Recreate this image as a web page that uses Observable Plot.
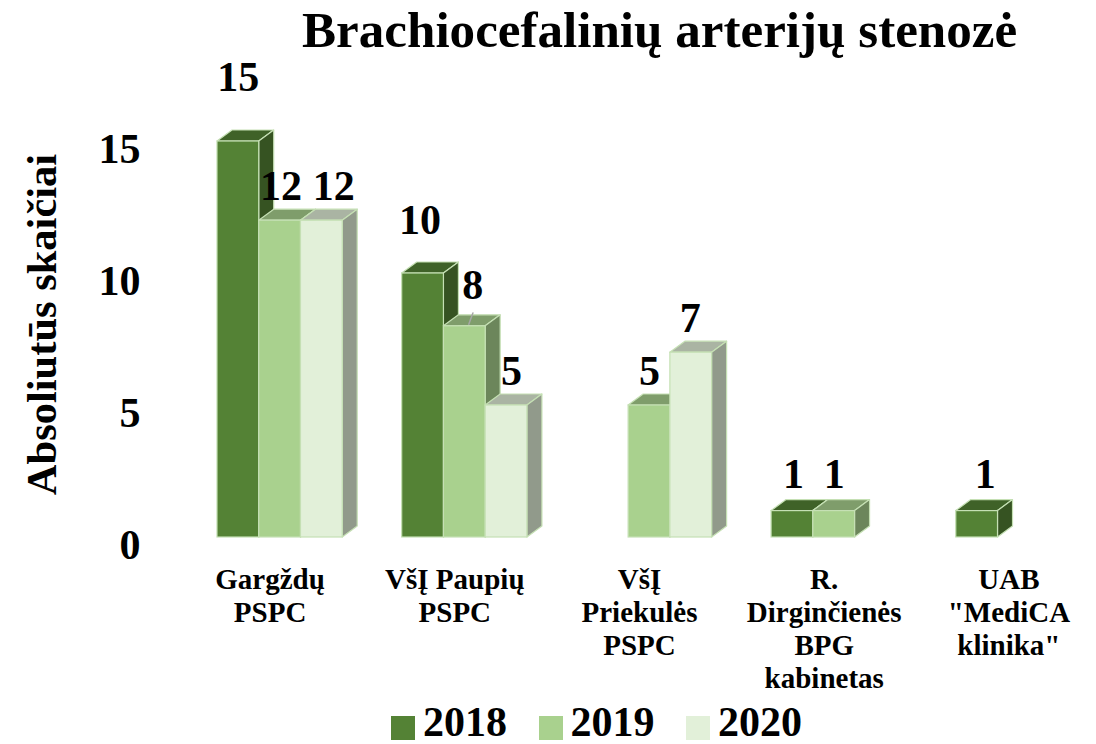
<!DOCTYPE html>
<html lang="lt">
<head>
<meta charset="utf-8">
<script src="https://cdn.jsdelivr.net/npm/d3@7"></script>
<script src="https://cdn.jsdelivr.net/npm/@observablehq/plot@0.6"></script>
<style>
  html, body { margin: 0; padding: 0; background: #fff; overflow: hidden; }
  body { width: 1096px; height: 744px; font-family: "Liberation Serif", serif; font-weight: bold; color: #000; }
  #title { height: 60px; line-height: 60px; font-size: 51.1px; text-align: left; padding-left: 302px; white-space: nowrap; }
  #chart { height: 640px; }
  #chart svg { display: block; }
  #legend { position: relative; top: 0; height: 44px; line-height: 44px; font-size: 42px; display: flex; padding-left: 391px; }
  #legend .item { display: flex; align-items: center; width: 147.5px; }
  #legend .sw { width: 24px; height: 24px; margin-right: 8px; margin-top: 12px; }
</style>
</head>
<body>
<div id="title"></div>
<div id="chart"></div>
<div id="legend"></div>
<script>
const titleText = "Brachiocefalinių arterijų stenozė";
const yLabel = "Absoliutūs skaičiai";
const categories = ["Gargždų\nPSPC", "VšĮ Paupių\nPSPC", "VšĮ\nPriekulės\nPSPC", "R.\nDirginčienės\nBPG\nkabinetas", "UAB\n\"MediCA\nklinika\""];
const years = ["2018", "2019", "2020"];
const values2018 = [15, 10, null, 1, 1];
const values2019 = [12, 8, 5, 1, null];
const values2020 = [12, 5, 7, null, null];
const colors = ["#548235", "#A9D18E", "#E2F0D9"];
const yTicks = [0, 5, 10, 15];

// hand-placed data labels of the original chart: [dx, dy] per "category index|year"
const labelNudges = {
  "0|2018": [0, -51], "0|2019": [1, -21], "0|2020": [12, -21],
  "1|2018": [-3, -40], "1|2019": [8, -27], "1|2020": [5, -21],
  "2|2019": [0, -21], "2|2020": [-1, -21],
  "3|2018": [1, -23], "3|2019": [0, -23],
  "4|2018": [8, -23]
};

const series = [values2018, values2019, values2020];
const data = [];
categories.forEach((c, i) => years.forEach((y, j) => {
  if (series[j][i] != null) data.push({category: c, ci: i, year: y, value: series[j][i]});
}));

document.getElementById("title").textContent = titleText;

// extrude each bar: top and side faces derived from the bar Plot drew
const depth = [15, -11];
function extrude(index, scales, values, dimensions, context, next) {
  const g = next(index, scales, values, dimensions, context);
  const ns = "http://www.w3.org/2000/svg";
  g.querySelectorAll("rect").forEach((r) => {
    const x = +r.getAttribute("x"), y = +r.getAttribute("y");
    const w = +r.getAttribute("width"), h = +r.getAttribute("height");
    const base = d3.rgb(r.getAttribute("fill"));
    const shade = (k) => d3.rgb(base.r * k, base.g * k, base.b * k).formatHex();
    const face = (pts, k) => {
      const p = document.createElementNS(ns, "polygon");
      p.setAttribute("points", pts.map((q) => q.join(",")).join(" "));
      p.setAttribute("fill", shade(k));
      p.setAttribute("stroke", "#C5E0B4");
      p.setAttribute("stroke-width", 1.2);
      p.setAttribute("stroke-linejoin", "round");
      r.parentNode.insertBefore(p, r);
    };
    const [dx, dy] = depth;
    face([[x, y], [x + dx, y + dy], [x + w + dx, y + dy], [x + w, y]], 0.75);
    face([[x + w, y], [x + w + dx, y + dy], [x + w + dx, y + h + dy], [x + w, y + h]], 0.64);
  });
  return g;
}

const labelMarks = data.map((d) => {
  const [dx, dy] = labelNudges[d.ci + "|" + d.year];
  return Plot.text([d], {
    fx: "category", x: "year", y: "value", text: (e) => String(e.value),
    dx, dy, fontSize: 42, fontWeight: "bold", fill: "#000", lineAnchor: "bottom", textAnchor: "middle"
  });
});

const plot = Plot.plot({
  width: 1096,
  height: 640,
  marginTop: 81,
  marginBottom: 163,
  marginLeft: 200,
  marginRight: 0,
  style: {fontFamily: "Liberation Serif", fontWeight: "bold", color: "#000", background: "#fff", overflow: "visible"},
  fx: {domain: categories, paddingInner: 0.322, paddingOuter: 0.0866, align: 0.531, round: false, label: null},
  x: {domain: years, padding: 0, round: false, axis: null},
  y: {domain: [0, 15], axis: null},
  color: {domain: years, range: colors},
  marks: [
    Plot.axisFx({
      anchor: "bottom", label: null, tickSize: 0, tickPadding: 28, dx: -10,
      fontSize: 29, fontWeight: "bold", lineHeight: 1.138, lineAnchor: "top"
    }),
    Plot.axisY({
      ticks: yTicks, tickSize: 0, tickPadding: 77, dy: 8, label: null,
      fontSize: 42, fontWeight: "bold"
    }),
    Plot.text([yLabel], {
      facet: "super", frameAnchor: "left", rotate: -90, dx: -175, dy: -15, textAnchor: "middle",
      fontSize: 42.5, fontWeight: "bold", fill: "#000"
    }),
    Plot.barY(data, {
      fx: "category", x: "year", y: "value", fill: "year",
      stroke: "#C5E0B4", strokeWidth: 1.2, render: extrude
    }),
    ...labelMarks,
    Plot.vector(data.filter((d) => d.ci === 1 && d.year === "2019"), {
      fx: "category", x: "year", y: "value", dx: 4, dy: -2, length: 12, rotate: 20, anchor: "start",
      stroke: "#A6A6A6", strokeWidth: 1.5,
      shape: {draw(ctx, l) { ctx.moveTo(0, 0); ctx.lineTo(0, -l); }}
    })
  ]
});
document.getElementById("chart").appendChild(plot);

const legend = d3.select("#legend");
years.forEach((y, i) => {
  const item = legend.append("div").attr("class", "item");
  item.append("div").attr("class", "sw").style("background", colors[i]);
  item.append("span").text(y);
});
</script>
</body>
</html>
